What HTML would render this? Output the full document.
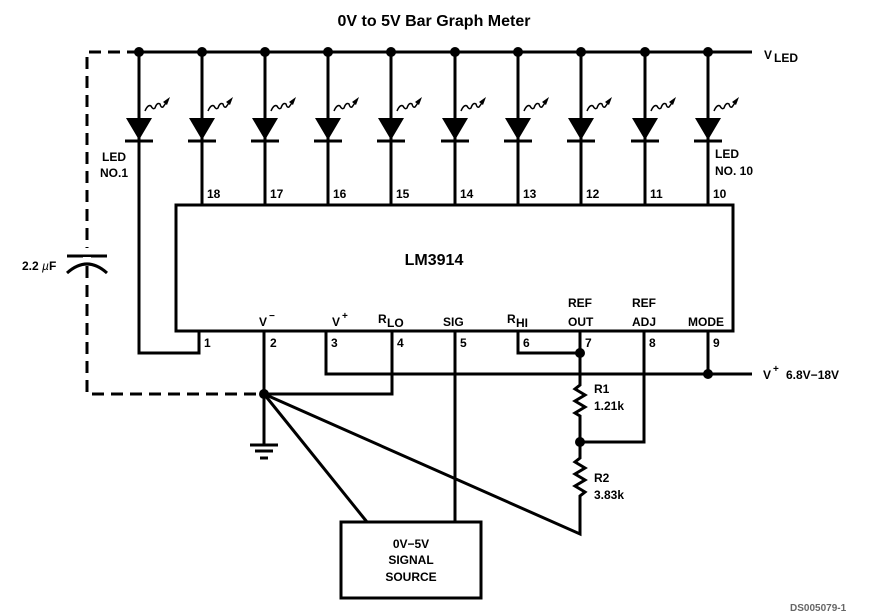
<!DOCTYPE html>
<html><head><meta charset="utf-8"><style>
html,body{margin:0;padding:0;background:#fff;}
svg{display:block}
text{font-family:"Liberation Sans",sans-serif;font-weight:bold;fill:#000}
</style></head><body>
<svg width="876" height="613" viewBox="0 0 876 613" xmlns="http://www.w3.org/2000/svg">
<text x="434" y="26" font-size="16" text-anchor="middle">0V to 5V Bar Graph Meter</text>
<g stroke="#000" stroke-width="3" fill="none">
<line x1="139" y1="52" x2="752" y2="52"/>
<polyline points="139,52 87,52 87,394 264,394" stroke-dasharray="12,7"/>
<rect x="176" y="205" width="557" height="126"/>
<polyline points="139,52 139,353 199,353 199,331"/>
<line x1="202" y1="52" x2="202" y2="205"/>
<line x1="265" y1="52" x2="265" y2="205"/>
<line x1="328" y1="52" x2="328" y2="205"/>
<line x1="391" y1="52" x2="391" y2="205"/>
<line x1="455" y1="52" x2="455" y2="205"/>
<line x1="518" y1="52" x2="518" y2="205"/>
<line x1="581" y1="52" x2="581" y2="205"/>
<line x1="645" y1="52" x2="645" y2="205"/>
<line x1="708" y1="52" x2="708" y2="205"/>
<line x1="264" y1="331" x2="264" y2="444"/>
<polyline points="326,331 326,374 752,374"/>
<polyline points="392,331 392,394 264,394"/>
<line x1="455" y1="331" x2="455" y2="522"/>
<polyline points="518,331 518,353 580,353"/>
<polyline points="580,331 580,385 575,389 585,395 575,401 585,407 575,413 580,416 580,458 575,462 585,468 575,474 585,480 575,486 585,492 580,496 580,534 264,394"/>
<polyline points="644,331 644,442 580,442"/>
<line x1="708" y1="331" x2="708" y2="374"/>
<line x1="264" y1="394" x2="367" y2="522"/>
<line x1="250" y1="445" x2="278" y2="445"/>
<line x1="255" y1="451" x2="273" y2="451"/>
<line x1="260" y1="458" x2="268" y2="458"/>
<rect x="341" y="522" width="140" height="76"/>
<line x1="67" y1="255" x2="107" y2="255" stroke="#fff" stroke-width="14"/>
<line x1="67" y1="256" x2="107" y2="256"/>
<path d="M67,273 Q87,255 107,273"/>
</g>
<rect x="83" y="257" width="8" height="4" fill="#fff"/>
<g fill="#000">
<circle cx="139" cy="52" r="5"/><circle cx="202" cy="52" r="5"/><circle cx="265" cy="52" r="5"/>
<circle cx="328" cy="52" r="5"/><circle cx="391" cy="52" r="5"/><circle cx="455" cy="52" r="5"/>
<circle cx="518" cy="52" r="5"/><circle cx="581" cy="52" r="5"/><circle cx="645" cy="52" r="5"/>
<circle cx="708" cy="52" r="5"/>
<circle cx="580" cy="353" r="5"/><circle cx="708" cy="374" r="5"/><circle cx="264" cy="394" r="5"/>
<circle cx="580" cy="442" r="5"/>
</g>
<defs>
<g id="d">
<polygon points="-13,118 13,118 0,140" fill="#000"/>
<line x1="-14" y1="141" x2="14" y2="141" stroke="#000" stroke-width="3"/>
<path d="M6,111 Q9,104 12,106 Q14,110 16,108 Q18,102 21,104 Q22,108 24,107 L29,100" stroke="#000" stroke-width="1.5" fill="none"/>
<polygon points="31,97 24,102 28,105" fill="#000"/>
</g>
</defs>
<use href="#d" x="139"/><use href="#d" x="202"/><use href="#d" x="265"/><use href="#d" x="328"/><use href="#d" x="391"/>
<use href="#d" x="455"/><use href="#d" x="518"/><use href="#d" x="581"/><use href="#d" x="645"/><use href="#d" x="708"/>
<g font-size="12">
<text x="102" y="161">LED</text><text x="100" y="177">NO.1</text>
<text x="715" y="158">LED</text><text x="715" y="175">NO. 10</text>
<text x="207" y="198">18</text><text x="270" y="198">17</text><text x="333" y="198">16</text><text x="396" y="198">15</text>
<text x="460" y="198">14</text><text x="523" y="198">13</text><text x="586" y="198">12</text><text x="650" y="198">11</text><text x="713" y="198">10</text>
<text x="204" y="347">1</text><text x="270" y="347">2</text><text x="331" y="347">3</text><text x="397" y="347">4</text>
<text x="460" y="347">5</text><text x="523" y="347">6</text><text x="585" y="347">7</text><text x="649" y="347">8</text><text x="713" y="347">9</text>
<text x="259" y="326">V</text><text x="269" y="319" font-size="10">−</text>
<text x="332" y="326">V</text><text x="342" y="319" font-size="10">+</text>
<text x="378" y="323">R</text><text x="387" y="327">LO</text>
<text x="443" y="326">SIG</text>
<text x="507" y="323">R</text><text x="516" y="327">HI</text>
<text x="568" y="307">REF</text><text x="568" y="326">OUT</text>
<text x="632" y="307">REF</text><text x="632" y="326">ADJ</text>
<text x="688" y="326">MODE</text>
<text x="764" y="59">V</text><text x="774" y="62">LED</text>
<text x="763" y="379">V</text><text x="773" y="372" font-size="10">+</text><text x="786" y="379">6.8V−18V</text>
<text x="594" y="393">R1</text><text x="594" y="410">1.21k</text>
<text x="594" y="482">R2</text><text x="594" y="499">3.83k</text>
<text x="22" y="270">2.2 <tspan font-weight="normal" font-style="italic">µ</tspan>F</text>
<text x="411" y="548" text-anchor="middle">0V−5V</text>
<text x="411" y="564" text-anchor="middle">SIGNAL</text>
<text x="411" y="581" text-anchor="middle">SOURCE</text>
</g>
<text x="434" y="265" font-size="16" text-anchor="middle">LM3914</text>
<text x="790" y="611" font-size="10" font-weight="normal" style="fill:#666">DS005079-1</text>
</svg>
</body></html>
